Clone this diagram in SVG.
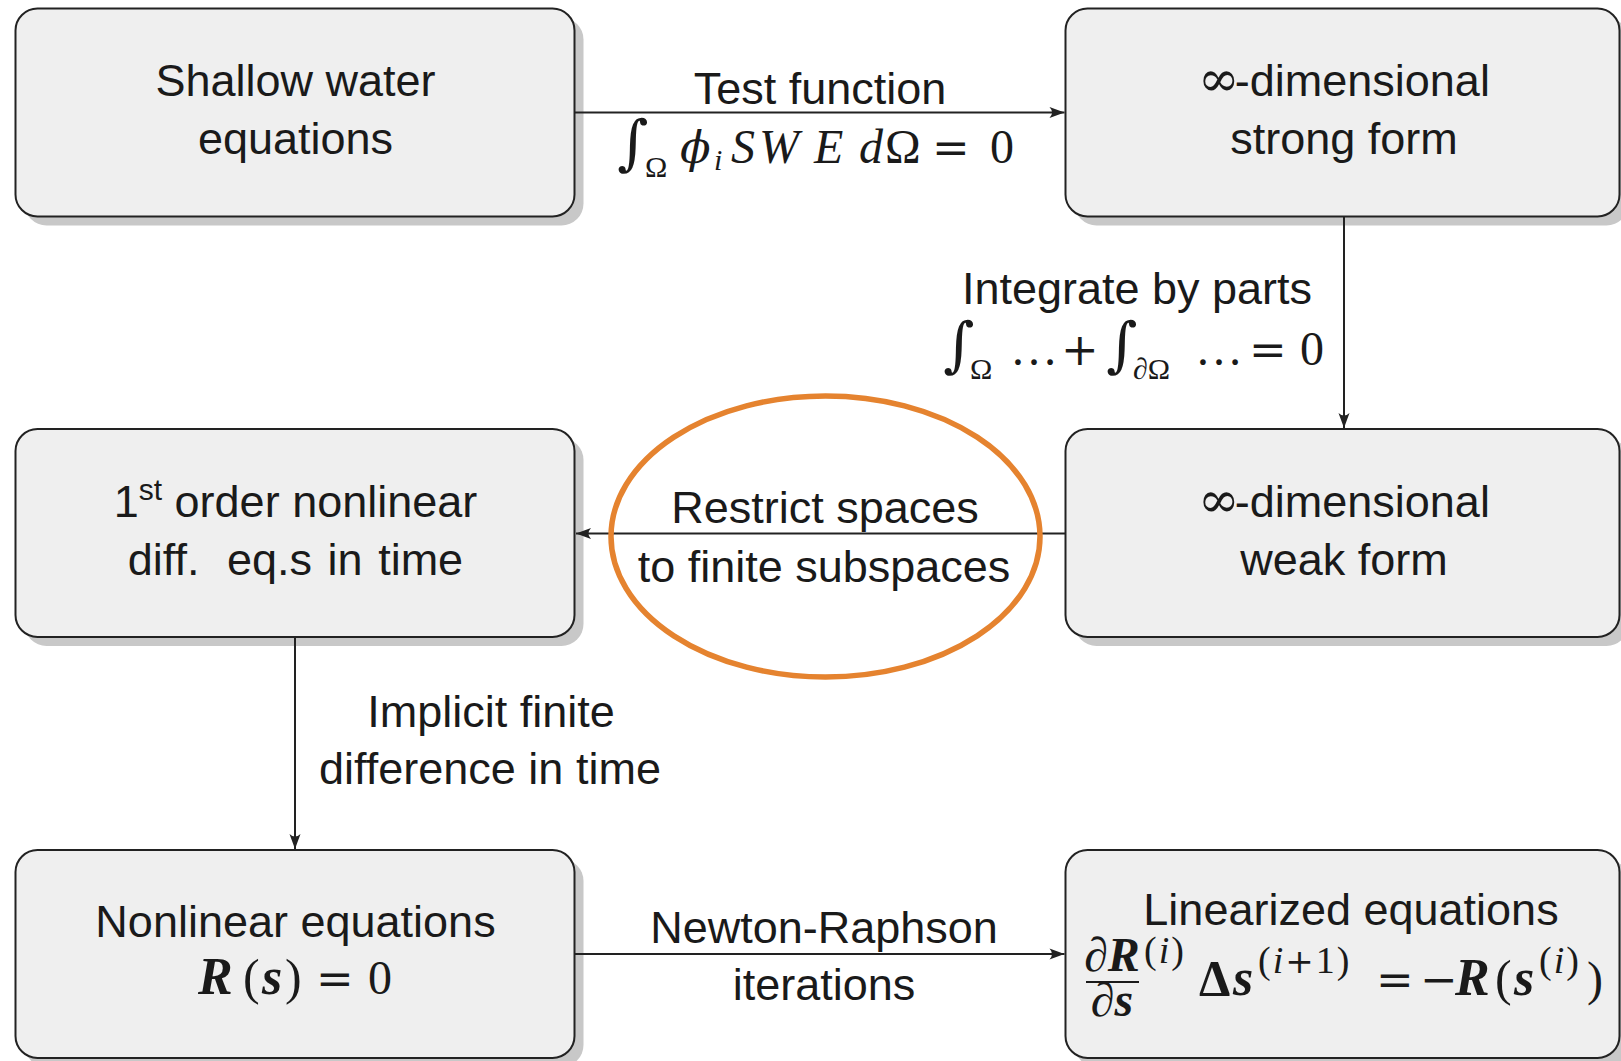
<svg xmlns="http://www.w3.org/2000/svg" width="1621" height="1061" viewBox="0 0 1621 1061">
<style>
.shadow{fill:#c8c8c8}
.box{fill:#efefef;stroke:#222;stroke-width:2}
.t{font-family:'Liberation Sans',Arial,sans-serif;font-size:45px;fill:#1a1a1a;text-anchor:middle}
.inf{font-family:'DejaVu Serif',serif;font-size:50px}
.m{font-family:'Liberation Serif','Times New Roman',serif;font-size:48px;fill:#1a1a1a}
.i{font-style:italic}
.bi{font-style:italic;font-weight:bold}
.b{font-weight:bold}
.sym{font-family:'DejaVu Serif',serif;font-size:45px}
.int{font-family:'DejaVu Serif',serif;font-size:60px;font-style:italic}
.sub{font-size:30px}
.sup{font-size:38px;letter-spacing:2px}
.conn{stroke:#222;stroke-width:2;fill:none;marker-end:url(#arr)}
.hl{fill:none;stroke:#e5832f;stroke-width:5.5}
</style>
<defs>
<marker id="arr" markerUnits="userSpaceOnUse" viewBox="-16 -8 18 16" markerWidth="18" markerHeight="16" refX="0" refY="0" orient="auto">
<path d="M0,0 L-15,-5.5 Q-10,0 -15,5.5 Z" fill="#222"/>
</marker>
</defs>
<rect width="1621" height="1061" fill="#fff"/>

<g id="node-swe">
<rect class="shadow" x="24.5" y="17.5" width="559" height="208" rx="22"/>
<rect class="box" x="15.5" y="8.5" width="559" height="208" rx="22"/>
<text class="t" x="295.5" y="96">Shallow water</text>
<text class="t" x="295.5" y="154">equations</text>
</g>

<g id="node-strong">
<rect class="shadow" x="1074.5" y="17.5" width="554" height="208" rx="22"/>
<rect class="box" x="1065.5" y="8.5" width="554" height="208" rx="22"/>
<text class="t" x="1344" y="96"><tspan class="inf">∞</tspan><tspan dx="-5">-dimensional</tspan></text>
<text class="t" x="1344" y="154">strong form</text>
</g>

<g id="node-ode">
<rect class="shadow" x="24.5" y="438" width="559" height="208" rx="22"/>
<rect class="box" x="15.5" y="429" width="559" height="208" rx="22"/>
<text class="t" x="295.5" y="517">1<tspan font-size="30" dy="-17">st</tspan><tspan dy="17"> order nonlinear</tspan></text>
<text class="t" x="295.5" y="575" word-spacing="3">diff.<tspan dx="12"> eq.s in time</tspan></text>
</g>

<g id="node-weak">
<rect class="shadow" x="1074.5" y="438" width="554" height="208" rx="22"/>
<rect class="box" x="1065.5" y="429" width="554" height="208" rx="22"/>
<text class="t" x="1344" y="517"><tspan class="inf">∞</tspan><tspan dx="-5">-dimensional</tspan></text>
<text class="t" x="1344" y="575">weak form</text>
</g>

<g id="node-nonlinear">
<rect class="shadow" x="24.5" y="859" width="559" height="208" rx="22"/>
<rect class="box" x="15.5" y="850" width="559" height="208" rx="22"/>
<text class="t" x="295.5" y="937">Nonlinear equations</text>
<text class="m" y="994"><tspan class="bi" x="198" font-size="52">R</tspan><tspan x="243" font-size="50">(</tspan><tspan class="bi" x="262" font-size="52">s</tspan><tspan x="285" font-size="50">)</tspan><tspan class="sym" x="316">=</tspan><tspan x="368">0</tspan></text>
</g>

<g id="node-linearized">
<rect class="shadow" x="1074.5" y="859" width="554" height="208" rx="22"/>
<rect class="box" x="1065.5" y="850" width="554" height="208" rx="22"/>
<text class="t" x="1351" y="925">Linearized equations</text>
<text class="m" font-size="36" x="1112" y="971" text-anchor="middle">∂<tspan class="bi">R</tspan></text>
<line x1="1086" y1="982" x2="1139" y2="982" stroke="#1a1a1a" stroke-width="2"/>
<text class="m" font-size="36" x="1112" y="1016" text-anchor="middle">∂<tspan class="bi">s</tspan></text>
<text class="m sup" x="1144" y="963">(<tspan class="i">i</tspan>)</text>
<text class="m" y="995"><tspan class="b" x="1199" font-size="50">Δ</tspan><tspan class="bi" x="1233" font-size="52">s</tspan></text>
<text class="m sup" x="1258" y="973">(<tspan class="i">i</tspan><tspan font-family="DejaVu Serif" font-size="34">+</tspan>1)</text>
<text class="m" y="995"><tspan class="sym" x="1376">=</tspan><tspan class="sym" x="1420">−</tspan><tspan class="bi" x="1455" font-size="52">R</tspan><tspan x="1495" font-size="50">(</tspan><tspan class="bi" x="1514" font-size="52">s</tspan></text>
<text class="m sup" x="1539" y="973">(<tspan class="i">i</tspan>)</text>
<text class="m" x="1587" y="995" font-size="50">)</text>
</g>

<g id="connectors">
<path class="conn" d="M574.5,112.5 H1064.5"/>
<path class="conn" d="M1344,216.5 V428"/>
<path class="conn" d="M1065.5,533.5 H576"/>
<path class="conn" d="M295,637 V849"/>
<path class="conn" d="M574.5,954 H1064.5"/>
</g>

<ellipse id="highlight" class="hl" cx="825.5" cy="536.5" rx="214.5" ry="140.5"/>

<g id="labels">
<text class="t" x="820" y="104">Test function</text>
<text class="m" y="163"><tspan class="int" x="617">∫</tspan><tspan class="sub" x="645" dy="14">Ω</tspan><tspan class="sym i" x="680" dy="-14" font-size="44">ϕ</tspan><tspan class="i sub" x="714" dy="7">i</tspan><tspan class="i" x="731" dy="-7">S</tspan><tspan class="i" x="759">W</tspan><tspan class="i" x="814">E</tspan><tspan class="i" x="859">d</tspan><tspan x="885">Ω</tspan><tspan class="sym" x="932">=</tspan><tspan x="990">0</tspan></text>

<text class="t" x="1137" y="304">Integrate by parts</text>
<text class="m" y="365"><tspan class="int" x="943">∫</tspan><tspan class="sub" x="970" dy="14">Ω</tspan><tspan x="1010" dy="-14">…</tspan><tspan class="sym" x="1061">+</tspan><tspan class="int" x="1106">∫</tspan><tspan class="sub" x="1133" dy="14">∂Ω</tspan><tspan x="1195" dy="-14">…</tspan><tspan class="sym" x="1249">=</tspan><tspan x="1300">0</tspan></text>

<text class="t" x="825" y="523">Restrict spaces</text>
<text class="t" x="824" y="582">to finite subspaces</text>

<text class="t" x="491" y="727">Implicit finite</text>
<text class="t" x="490" y="784">difference in time</text>

<text class="t" x="824" y="943">Newton-Raphson</text>
<text class="t" x="824" y="1000">iterations</text>
</g>
</svg>
